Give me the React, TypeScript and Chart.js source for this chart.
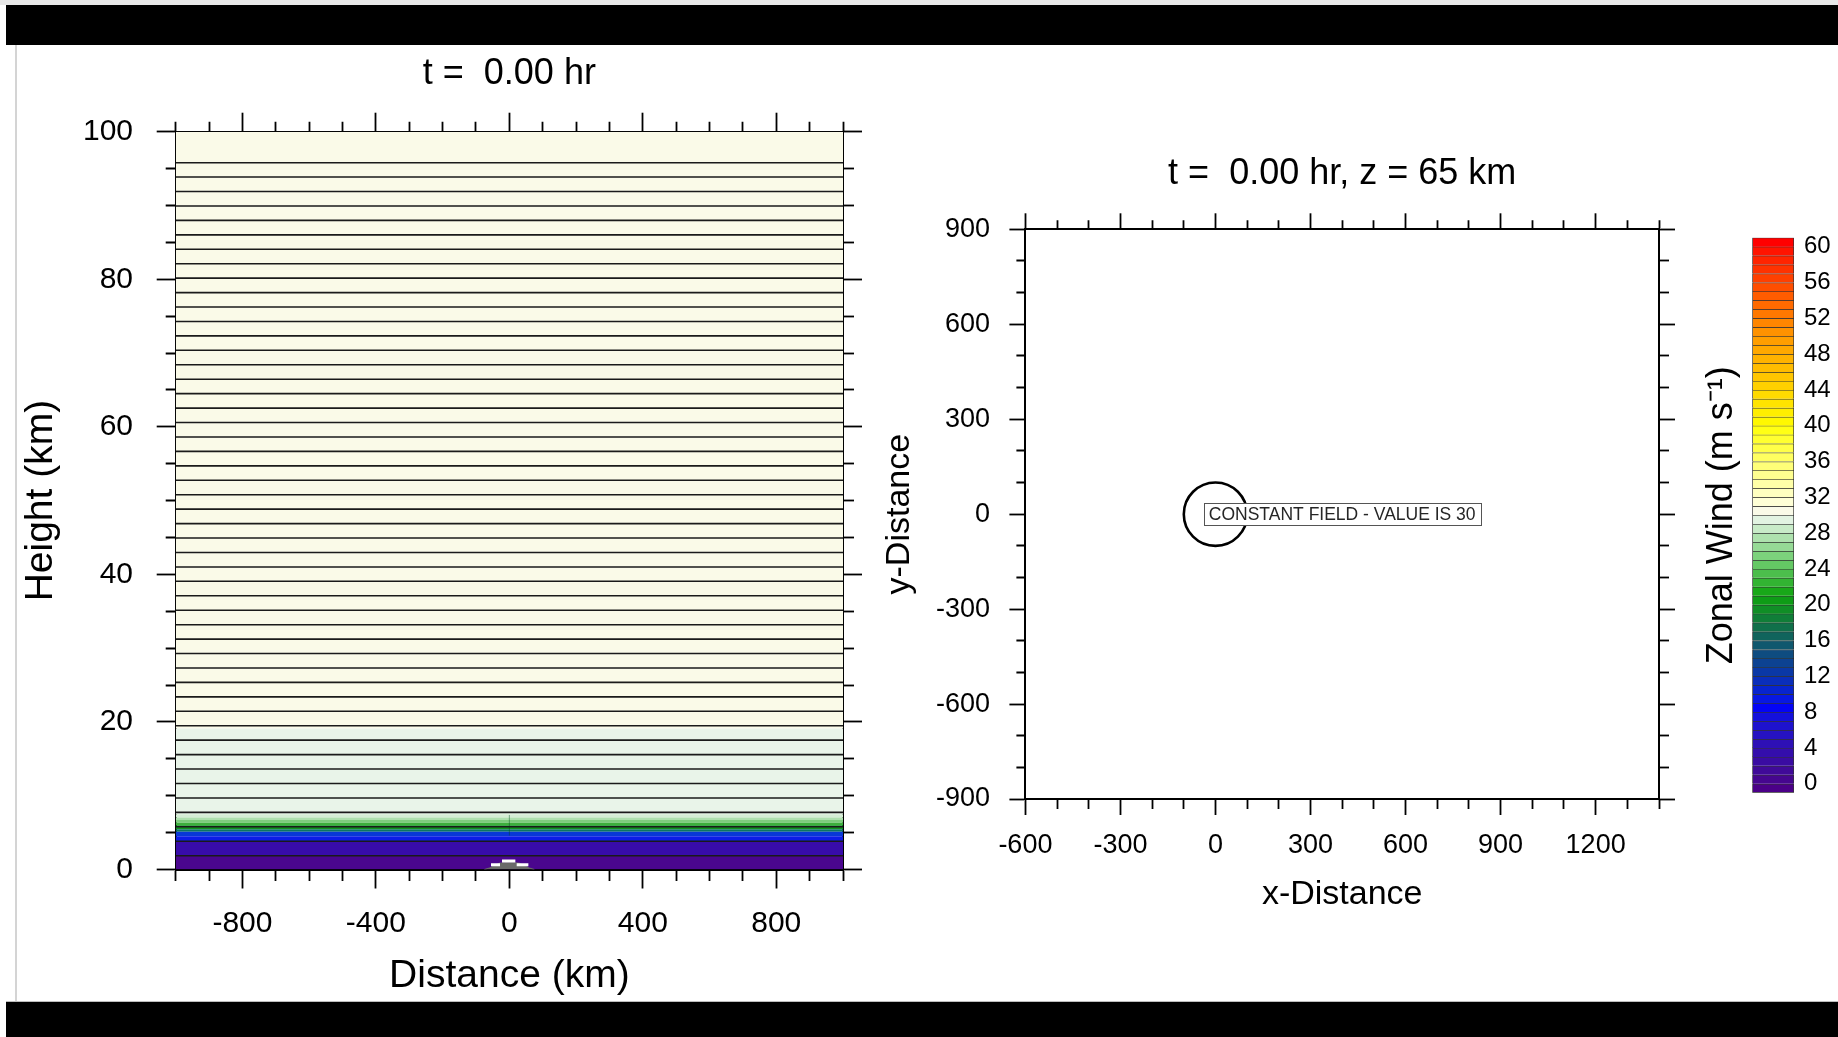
import React, { useEffect, useRef } from 'react';
import { Chart, registerables } from 'chart.js';

Chart.register(...registerables);

const FONT = "'Liberation Sans', Arial, Helvetica, sans-serif";
Chart.defaults.font.family = FONT;
Chart.defaults.color = '#000';

// ---------------- Left panel: vertical cross-section ----------------
const LEFT_TITLE = 't =  0.00 hr';
const LEFT_X_TITLE = 'Distance (km)';
const LEFT_Y_TITLE = 'Height (km)';
const LEFT_X_MIN = -1000;
const LEFT_X_MAX = 1000;
const LEFT_Y_MIN = 0;
const LEFT_Y_MAX = 100;
const LEFT_X_STEP = 100;
const LEFT_Y_STEP = 5;
const LEFT_X_LABELS = [-800, -400, 0, 400, 800];
const LEFT_Y_LABELS = [0, 20, 40, 60, 80, 100];

// filled colour bands (km)
const BAND_BOTTOM = [0, 1.87, 3.83, 4.5, 5.1, 5.45, 6.0, 6.35, 6.7, 7.05, 7.5, 19.1];
const BAND_TOP = [1.87, 3.83, 4.5, 5.1, 5.45, 6.0, 6.35, 6.7, 7.05, 7.5, 19.1, 100];
const BAND_COLORS = [
  '#4A068E', '#380CAA', '#0C1CE6', '#0838D6', '#0C7660', '#0E921E',
  '#3CAE3C', '#7ECC7E', '#AEE0AE', '#D4EDD4', '#E9F4E9', '#FAFAE8',
];

// horizontal contour lines (km)
const LEVEL_HEIGHTS = [
  1.87, 3.83, 5.79, 7.74, 9.7, 11.66, 13.62, 15.57, 17.53, 19.49, 21.44, 23.4,
  25.36, 27.31, 29.27, 31.23, 33.18, 35.14, 37.1, 39.06, 41.01, 42.97, 44.93,
  46.88, 48.84, 50.8, 52.75, 54.71, 56.67, 58.62, 60.58, 62.54, 64.5, 66.45,
  68.41, 70.37, 72.32, 74.28, 76.24, 78.19, 80.15, 82.11, 84.06, 86.02, 87.98,
  89.93, 91.89, 93.85, 95.8,
];

// terrain bump
const TERRAIN_X = [-75, -60, -45, -30, -15, 0, 15, 30, 45, 60, 75];
const TERRAIN_Y = [0, 0.2, 0.5, 0.85, 0.92, 0.92, 0.92, 0.85, 0.5, 0.2, 0];
const TERRAIN_EDGE_X0 = [-55, -22, 22];
const TERRAIN_EDGE_X1 = [-28, 18, 57];
const TERRAIN_EDGE_Y = [0.65, 1.15, 0.65];
const CENTER_MARK_X = [0, 0];
const CENTER_MARK_Y = [4.6, 7.4];

// ---------------- Right panel: horizontal section ----------------
const RIGHT_TITLE = 't =  0.00 hr, z = 65 km';
const RIGHT_X_TITLE = 'x-Distance';
const RIGHT_Y_TITLE = 'y-Distance';
const RIGHT_X_MIN = -600;
const RIGHT_X_MAX = 1400;
const RIGHT_Y_MIN = -900;
const RIGHT_Y_MAX = 900;
const RIGHT_STEP = 100;
const RIGHT_X_LABELS = [-600, -300, 0, 300, 600, 900, 1200];
const RIGHT_Y_LABELS = [-900, -600, -300, 0, 300, 600, 900];
const CIRCLE_X = [0];
const CIRCLE_Y = [0];
const CIRCLE_RADIUS_KM = 100;
const CONSTANT_LABEL = 'CONSTANT FIELD - VALUE IS 30';

// ---------------- Colour bar ----------------
const CB_TITLE = 'Zonal Wind (m s\u207B\u00B9)';
const CB_MIN = -1;
const CB_MAX = 61;
const CB_LABELS = [0, 4, 8, 12, 16, 20, 24, 28, 32, 36, 40, 44, 48, 52, 56, 60];
const CB_EDGES = [
  -1, 0, 1, 2, 3, 4, 5, 6, 7, 8, 9, 10, 11, 12, 13, 14, 15, 16, 17, 18, 19, 20,
  21, 22, 23, 24, 25, 26, 27, 28, 29, 30, 31, 32, 33, 34, 35, 36, 37, 38, 39, 40,
  41, 42, 43, 44, 45, 46, 47, 48, 49, 50, 51, 52, 53, 54, 55, 56, 57, 58, 59, 60, 61,
];
const CB_COLORS = [
  '#4B0088', '#46068F', '#400A98', '#3A0CA2', '#340EAC', '#2E10B6', '#2612C2',
  '#1E12CE', '#1410DC', '#0404F6', '#0818E2', '#0824CE', '#0A2EBA', '#0A38A6',
  '#0C4292', '#0E4C80', '#10586E', '#10645C', '#10704A', '#107E38', '#108E26',
  '#0E9C16', '#18A818', '#32B432', '#4CBE4C', '#64C864', '#7CD27C', '#96DA96',
  '#AEE2AE', '#C8EBC8', '#E2F3E2', '#FAFAE8', '#FFFFD6', '#FFFFC0', '#FFFFA8',
  '#FFFF90', '#FFFF78', '#FFFF60', '#FFFF48', '#FFFF30', '#FFFF14', '#FFF800',
  '#FFEE00', '#FFE400', '#FFDA00', '#FFD000', '#FFC600', '#FFBC00', '#FFB200',
  '#FFA800', '#FF9E00', '#FF9200', '#FF8600', '#FF7800', '#FF6A00', '#FF5C00',
  '#FF4E00', '#FF4000', '#FF3200', '#FF2400', '#FF1400', '#FF0000',
];

// ---------------- helpers ----------------
const isMajor = (list: number[], v: number) => list.some((m) => Math.abs(m - v) < 1e-6);

function makeAxis(a: any) {
  const horizontal = a.position === 'top' || a.position === 'bottom';
  const outerFirst = a.position === 'top' || a.position === 'left';
  return {
    type: 'linear',
    position: a.position,
    min: a.min,
    max: a.max,
    display: true,
    afterFit: (s: any) => {
      if (horizontal) s.height = a.size;
      else s.width = a.size;
    },
    grid: {
      display: true,
      drawOnChartArea: false,
      drawTicks: true,
      tickLength: a.major,
      tickWidth: 1.8,
      tickColor: '#000',
      tickBorderDash: (c: any) => {
        const v = c && c.tick ? c.tick.value : NaN;
        if (isMajor(a.majors, v)) return [];
        return outerFirst ? [0, a.major - a.minor, a.minor, 1000] : [a.minor, 1000];
      },
    },
    border: { display: true, color: '#000', width: 2 },
    ticks: {
      display: a.labels,
      stepSize: a.step,
      autoSkip: false,
      maxRotation: 0,
      minRotation: 0,
      padding: a.padding ?? 0,
      color: '#000',
      font: { family: FONT, size: a.fontSize ?? 12 },
      callback: (v: number) => (isMajor(a.majors, v) ? String(v) : ''),
    },
    title: a.title
      ? {
          display: true,
          text: a.title,
          color: '#000',
          font: { family: FONT, size: a.titleSize, weight: 'normal' },
          padding: a.titlePad,
        }
      : { display: false },
  };
}

function buildLeft(): any {
  const datasets: any[] = [];
  // white terrain edge segments (top-most)
  const edge: any[] = [];
  TERRAIN_EDGE_Y.forEach((y, i) => {
    edge.push({ x: TERRAIN_EDGE_X0[i], y });
    edge.push({ x: TERRAIN_EDGE_X1[i], y });
    edge.push({ x: TERRAIN_EDGE_X1[i], y: null });
  });
  datasets.push({ data: edge, order: -2, borderColor: '#ffffff', borderWidth: 3, pointRadius: 0, fill: false });
  // terrain
  datasets.push({
    data: TERRAIN_X.map((x, i) => ({ x, y: TERRAIN_Y[i] })),
    order: -1,
    borderWidth: 1,
    borderColor: '#6a6a6a',
    backgroundColor: '#6a6a6a',
    pointRadius: 0,
    fill: 'origin',
  });
  // contour lines
  const lines: any[] = [];
  LEVEL_HEIGHTS.forEach((h) => {
    lines.push({ x: LEFT_X_MIN, y: h });
    lines.push({ x: LEFT_X_MAX, y: h });
    lines.push({ x: LEFT_X_MAX, y: null });
  });
  datasets.push({ data: lines, borderColor: '#1a1a1a', borderWidth: 1.6, pointRadius: 0, fill: false });
  // faint centre mark
  datasets.push({
    data: CENTER_MARK_X.map((x, i) => ({ x, y: CENTER_MARK_Y[i] })),
    borderColor: 'rgba(0,70,30,0.45)',
    borderWidth: 1,
    pointRadius: 0,
    fill: false,
  });
  // colour bands
  BAND_TOP.forEach((top, i) => {
    datasets.push({
      data: [
        { x: LEFT_X_MIN, y: top },
        { x: LEFT_X_MAX, y: top },
      ],
      borderWidth: 0,
      borderColor: 'rgba(0,0,0,0)',
      backgroundColor: BAND_COLORS[i],
      pointRadius: 0,
      fill: { value: BAND_BOTTOM[i] },
    });
  });

  return {
    type: 'line',
    data: { datasets },
    options: {
      responsive: false,
      animation: false,
      events: [],
      layout: { padding: 0 },
      plugins: {
        legend: { display: false },
        tooltip: { enabled: false },
        title: {
          display: true,
          text: LEFT_TITLE,
          fullSize: false,
          color: '#000',
          font: { family: FONT, size: 36, weight: 'normal' },
          padding: { top: 52.5, bottom: 17 },
        },
      },
      scales: {
        x: makeAxis({
          position: 'bottom', min: LEFT_X_MIN, max: LEFT_X_MAX, step: LEFT_X_STEP,
          majors: LEFT_X_LABELS, major: 19, minor: 10, size: 140.5, labels: true,
          fontSize: 30, padding: 17.5, title: LEFT_X_TITLE, titleSize: 39,
          titlePad: { top: 0, bottom: 10.1 },
        }),
        x2: makeAxis({
          position: 'top', min: LEFT_X_MIN, max: LEFT_X_MAX, step: LEFT_X_STEP,
          majors: LEFT_X_LABELS, major: 19, minor: 10, size: 19, labels: false,
        }),
        y: makeAxis({
          position: 'left', min: LEFT_Y_MIN, max: LEFT_Y_MAX, step: LEFT_Y_STEP,
          majors: LEFT_Y_LABELS, major: 19, minor: 10, size: 175.7, labels: true,
          fontSize: 30, padding: 23.7, title: LEFT_Y_TITLE, titleSize: 39,
          titlePad: { top: 17.6, bottom: 0 },
        }),
        y2: makeAxis({
          position: 'right', min: LEFT_Y_MIN, max: LEFT_Y_MAX, step: LEFT_Y_STEP,
          majors: LEFT_Y_LABELS, major: 19, minor: 10, size: 19, labels: false,
        }),
      },
    },
  };
}

const constantFieldPlugin = {
  id: 'constantField',
  afterDatasetsDraw(chart: any) {
    const { ctx, chartArea } = chart;
    const cx = (chartArea.left + chartArea.right) / 2;
    const cy = (chartArea.top + chartArea.bottom) / 2;
    ctx.save();
    ctx.font = `17.5px ${FONT}`;
    const w = ctx.measureText(CONSTANT_LABEL).width;
    const bw = w + 10;
    const bh = 22;
    ctx.fillStyle = '#ffffff';
    ctx.fillRect(cx - bw / 2, cy - bh / 2, bw, bh);
    ctx.strokeStyle = '#555555';
    ctx.lineWidth = 1;
    ctx.strokeRect(Math.round(cx - bw / 2) + 0.5, Math.round(cy - bh / 2) + 0.5, Math.round(bw), Math.round(bh));
    ctx.fillStyle = '#262626';
    ctx.textAlign = 'center';
    ctx.textBaseline = 'middle';
    ctx.fillText(CONSTANT_LABEL, cx, cy + 1);
    ctx.restore();
  },
};

function buildRight(): any {
  return {
    type: 'line',
    data: {
      datasets: [
        {
          data: CIRCLE_X.map((x, i) => ({ x, y: CIRCLE_Y[i] })),
          showLine: false,
          pointStyle: 'circle',
          pointRadius: (c: any) => {
            const s = c.chart.scales.x;
            return Math.abs(s.getPixelForValue(CIRCLE_RADIUS_KM) - s.getPixelForValue(0));
          },
          pointBorderWidth: 2.6,
          pointBorderColor: '#000',
          pointBackgroundColor: 'rgba(0,0,0,0)',
        },
      ],
    },
    plugins: [constantFieldPlugin],
    options: {
      responsive: false,
      animation: false,
      events: [],
      layout: { padding: 0 },
      plugins: {
        legend: { display: false },
        tooltip: { enabled: false },
        title: {
          display: true,
          text: RIGHT_TITLE,
          fullSize: false,
          color: '#000',
          font: { family: FONT, size: 36, weight: 'normal' },
          padding: { top: 32, bottom: 18.1 },
        },
      },
      scales: {
        x: makeAxis({
          position: 'bottom', min: RIGHT_X_MIN, max: RIGHT_X_MAX, step: RIGHT_STEP,
          majors: RIGHT_X_LABELS, major: 16, minor: 9, size: 141, labels: true,
          fontSize: 27, padding: 14.8, title: RIGHT_X_TITLE, titleSize: 34,
          titlePad: { top: 0, bottom: 24.6 },
        }),
        x2: makeAxis({
          position: 'top', min: RIGHT_X_MIN, max: RIGHT_X_MAX, step: RIGHT_STEP,
          majors: RIGHT_X_LABELS, major: 16, minor: 9, size: 16, labels: false,
        }),
        y: makeAxis({
          position: 'left', min: RIGHT_Y_MIN, max: RIGHT_Y_MAX, step: RIGHT_STEP,
          majors: RIGHT_Y_LABELS, major: 16, minor: 9, size: 165.4, labels: true,
          fontSize: 27, padding: 19.4, title: RIGHT_Y_TITLE, titleSize: 34,
          titlePad: { top: 19.6, bottom: 0 },
        }),
        y2: makeAxis({
          position: 'right', min: RIGHT_Y_MIN, max: RIGHT_Y_MAX, step: RIGHT_STEP,
          majors: RIGHT_Y_LABELS, major: 16, minor: 9, size: 16, labels: false,
        }),
      },
    },
  };
}

function buildColorbar(): any {
  const boxes = CB_COLORS.map((_, i) => ({ x: 'bar', y: [CB_EDGES[i], CB_EDGES[i + 1]] }));
  return {
    type: 'bar',
    data: {
      labels: ['bar'],
      datasets: [
        {
          data: boxes,
          backgroundColor: CB_COLORS,
          borderColor: 'rgba(0,0,0,0.8)',
          borderSkipped: false,
          borderWidth: (c: any) => ({ top: 1, left: 1, right: 1, bottom: c.dataIndex === 0 ? 1 : 0 }),
          categoryPercentage: 1,
          barPercentage: 1,
        },
      ],
    },
    options: {
      responsive: false,
      animation: false,
      events: [],
      layout: { padding: { top: 37.7, bottom: 27.3, left: 0, right: 0 } },
      plugins: { legend: { display: false }, tooltip: { enabled: false }, title: { display: false } },
      scales: {
        x: { type: 'category', display: false, offset: true },
        y: {
          type: 'linear',
          position: 'right',
          min: CB_MIN,
          max: CB_MAX,
          afterBuildTicks: (s: any) => {
            s.ticks = CB_LABELS.map((v) => ({ value: v }));
          },
          afterFit: (s: any) => {
            s.width = 46;
          },
          grid: { display: false, drawTicks: false },
          border: { display: false },
          ticks: {
            padding: 10,
            color: '#000',
            autoSkip: false,
            font: { family: FONT, size: 24 },
            callback: (v: number) => String(v),
          },
        },
        yT: {
          type: 'linear',
          position: 'left',
          min: CB_MIN,
          max: CB_MAX,
          afterFit: (s: any) => {
            s.width = 72.3;
          },
          grid: { display: false, drawTicks: false },
          border: { display: false },
          ticks: { display: false },
          title: {
            display: true,
            text: CB_TITLE,
            color: '#000',
            font: { family: FONT, size: 36, weight: 'normal' },
            padding: { top: 20.5, bottom: 0 },
          },
        },
      },
    },
  };
}

function ChartCanvas(props: { left: number; top: number; width: number; height: number; build: () => any }) {
  const ref = useRef<HTMLCanvasElement>(null);
  useEffect(() => {
    const chart = new Chart(ref.current as HTMLCanvasElement, props.build());
    return () => chart.destroy();
  }, []);
  return (
    <canvas
      ref={ref}
      width={props.width}
      height={props.height}
      style={{ position: 'absolute', left: props.left, top: props.top, width: props.width, height: props.height }}
    />
  );
}

export default function App() {
  return (
    <div
      style={{
        position: 'absolute',
        left: 0,
        top: 0,
        width: 1838,
        height: 1037,
        background: '#ffffff',
        overflow: 'hidden',
        fontFamily: FONT,
      }}
    >
      <div style={{ position: 'absolute', left: 0, top: 0, width: 1838, height: 5, background: '#e8e8e8' }} />
      <div style={{ position: 'absolute', left: 6, top: 5, width: 1832, height: 40, background: '#000' }} />
      <div style={{ position: 'absolute', left: 15, top: 45, width: 2, height: 957, background: '#d4d4d4' }} />
      <div style={{ position: 'absolute', left: 6, top: 1001, width: 1832, height: 1, background: '#bdbdbd' }} />
      <div style={{ position: 'absolute', left: 6, top: 1002, width: 1832, height: 35, background: '#000' }} />
      <ChartCanvas left={0} top={0} width={862} height={1010} build={buildLeft} />
      <ChartCanvas left={860} top={120} width={815} height={820} build={buildRight} />
      <ChartCanvas left={1680} top={200} width={160} height={620} build={buildColorbar} />
    </div>
  );
}
